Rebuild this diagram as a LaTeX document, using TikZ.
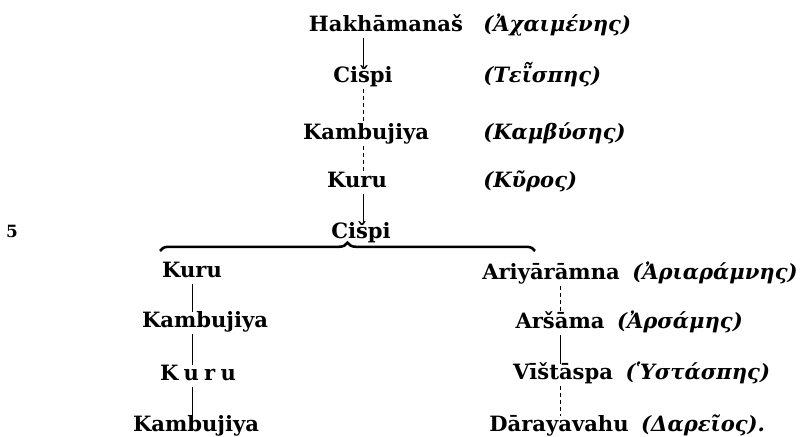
\documentclass[tikz,border=0pt]{standalone}
\usepackage{fontspec}
\setmainfont{DejaVu Serif}
\newfontfamily\grfont{DejaVu Serif}
\usetikzlibrary{positioning,decorations.pathreplacing}

\tikzset{
  nm/.style={font=\fontsize{15}{18}\selectfont\bfseries, anchor=base,
    inner xsep=0pt, inner ysep=0.3em, text height=0.85em, text depth=0.1em},
  gr/.style={font=\fontsize{15}{18}\grfont\bfseries\itshape, anchor=base west, inner sep=0pt},
  sol/.style={line width=0.7pt},
  dsh/.style={line width=0.7pt, dash pattern=on 3pt off 2pt},
}

\begin{document}
\begin{tikzpicture}

\useasboundingbox (0,0) rectangle (20.15,10.925);

% upper line
\node[nm] (hak) at (9.65,10.125) {Hakhāmanaš};
\node[nm] (cis1) at (9.075,8.85) {Cišpi};
\node[nm] (kam1) at (9.15,7.425) {Kambujiya};
\node[nm] (kur1) at (8.925,6.225) {Kuru};
\node[nm] (cis2) at (9.025,4.95) {Cišpi};
\node[gr] (hakG) at (12.075,10.125) {(Ἀχαιμένης)};
\node[gr] (cis1G) at (12.075,8.85) {(Τεῗσπης)};
\node[gr] (kam1G) at (12.075,7.425) {(Καμβύσης)};
\node[gr] (kur1G) at (12.075,6.225) {(Κῦρος)};

\draw[sol] (hak.south -| cis1) -- (cis1.north);
\draw[dsh] (cis1.south) -- (kam1.north -| cis1);
\draw[dsh] (kam1.south -| cis1) -- (kur1.north -| cis1);
\draw[sol] (kur1.south -| cis1) -- (cis2.north -| cis1);

\node[font=\fontsize{12}{14}\selectfont\bfseries, anchor=base] (five) at (0.3,4.975) {5};

% the two branches
\coordinate (bl) at (4.0,4.65);
\coordinate (br) at (13.375,4.65);
\draw[line width=1.8pt, decorate, decoration={brace, amplitude=6pt}] (bl) -- (br);

\node[nm] (kur2) at (4.8,3.975) {Kuru};
\node[nm] (kam2) at (5.125,2.725) {Kambujiya};
\node[nm] (kur3) at (4.95,1.4) {K\kern.25em u\kern.25em r\kern.25em u};
\node[nm] (kam3) at (4.9,0.125) {Kambujiya};

\draw[sol] (kur2.south) -- (kam2.north -| kur2);
\draw[sol] (kam2.south -| kur2) -- (kur3.north -| kur2);
\draw[sol] (kur3.south -| kur2) -- (kam3.north -| kur2);

\node[nm] (ari) at (13.775,3.925) {Ariyārāmna};
\node[nm] (ars) at (14.0,2.7) {Aršāma};
\node[nm] (vis) at (14.075,1.425) {Vīštāspa};
\node[nm] (dar) at (13.975,0.125) {Dārayavahu};
\node[gr] (ariG) at ([xshift=0.3cm]ari.base east) {(Ἀριαράμνης)};
\node[gr] (arsG) at ([xshift=0.3cm]ars.base east) {(Ἀρσάμης)};
\node[gr] (visG) at ([xshift=0.3cm]vis.base east) {(Ὑστάσπης)};
\node[gr] (darG) at ([xshift=0.3cm]dar.base east) {(Δαρεῖος).};

\draw[dsh] (ari.south -| ars) -- (ars.north);
\draw[sol] (ars.south) -- (vis.north -| ars);
\draw[dsh] (vis.south -| ars) -- (dar.north -| ars);

\end{tikzpicture}
\end{document}
